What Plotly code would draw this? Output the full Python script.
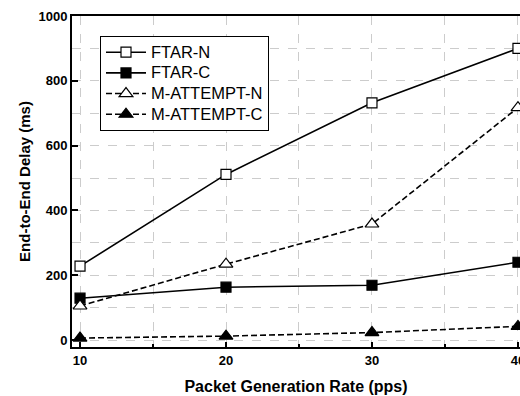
import plotly.graph_objects as go

rates = [10, 20, 30, 40]
ftar_n = [228, 511, 732, 900]
ftar_c = [129, 163, 169, 240]
matt_n = [105, 234, 358, 717]
matt_c = [6, 12, 23, 42]
names = ["FTAR-N", "FTAR-C", "M-ATTEMPT-N", "M-ATTEMPT-C"]

FONT = "Liberation Sans, Arial, sans-serif"

fig = go.Figure()
series = [
    (names[0], ftar_n, "solid", "square", 10, "white"),
    (names[1], ftar_c, "solid", "square", 10, "black"),
    (names[2], matt_n, "dash", "triangle-up", 12, "white"),
    (names[3], matt_c, "dash", "triangle-up", 12, "black"),
]
for name, ys, dash, sym, sz, fill in series:
    fig.add_trace(go.Scatter(
        x=rates, y=ys, name=f"<span style='font-size:16.5px'>{name}</span>",
        mode="lines+markers",
        line=dict(color="black", width=1.6, dash="solid" if dash == "solid" else "6px,3px"),
        marker=dict(symbol=sym, size=sz, color=fill,
                    line=dict(color="black", width=1.2)),
        cliponaxis=False,
    ))

fig.update_layout(
    width=520, height=396,
    margin=dict(l=72, r=0, t=16, b=49),
    paper_bgcolor="white", plot_bgcolor="white",
    font=dict(family=FONT, color="black"),
    showlegend=True,
    legend=dict(x=0.0625, y=0.94, xanchor="left", yanchor="top",
                bordercolor="black", borderwidth=1, bgcolor="white",
                font=dict(size=13.6, family=FONT), tracegroupgap=0,
                itemwidth=40),
)
fig.update_xaxes(
    range=[9.45, 40.14], tickvals=rates, ticktext=[str(r) for r in rates],
    automargin=False,
    ticks="inside", ticklen=5, tickwidth=2, tickcolor="black",
    showline=True, linewidth=2, linecolor="black", mirror=True,
    showgrid=False, zeroline=False, ticklabeloverflow="allow",
    tickfont=dict(size=13, family=FONT, weight="bold"),
    title=dict(text="Packet Generation Rate (pps)", font=dict(size=16, family=FONT, weight="bold"), standoff=14),
    minor=dict(tick0=5, dtick=5, showgrid=True, gridcolor="#cccccc", griddash="dash",
               gridwidth=1, ticks="inside", ticklen=3, tickcolor="black", tickwidth=2),
)
fig.update_yaxes(
    range=[-21.6, 1000], tickvals=[0, 200, 400, 600, 800, 1000],
    automargin=False,
    ticks="inside", ticklen=6, tickwidth=2, tickcolor="black",
    showline=True, linewidth=2, linecolor="black", mirror=True,
    showgrid=False, zeroline=False, ticklabeloverflow="allow",
    tickfont=dict(size=13, family=FONT, weight="bold"),
    title=dict(text="End-to-End Delay (ms)", font=dict(size=15, family=FONT, weight="bold"), standoff=4),
    minor=dict(tick0=0, dtick=100, showgrid=True, gridcolor="#cccccc", griddash="dash",
               gridwidth=1, ticks=""),
)

fig.write_html("out.html")
